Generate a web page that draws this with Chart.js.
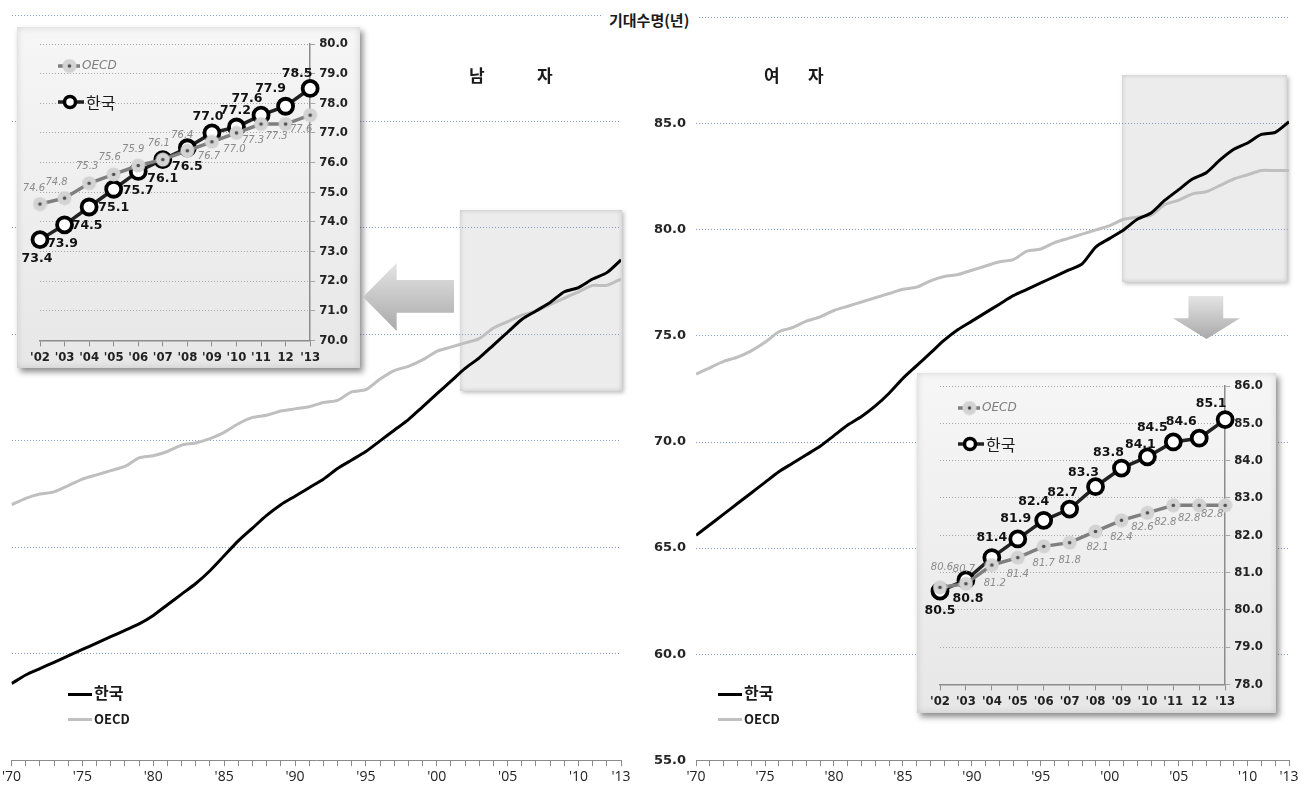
<!DOCTYPE html>
<html>
<head>
<meta charset="utf-8">
<script src="https://cdn.jsdelivr.net/npm/chart.js@4.4.0/dist/chart.umd.min.js"></script>
<style>
  body { margin:0; background:#fff; width:1314px; height:792px; position:relative; overflow:hidden;
         font-family:"Noto Sans CJK KR","Noto Sans",sans-serif; color:#1a1a1a; }
  .abs { position:absolute; }
  canvas { position:absolute; }
  .hbox { background:#ececec; box-shadow: inset 0 0 5px rgba(0,0,0,0.18), 2px 2px 4px rgba(0,0,0,0.25); z-index:0; }
  .panel { background:linear-gradient(#f6f6f6,#e7e7e7); box-shadow: 3px 4px 6px rgba(0,0,0,0.45), inset 0 0 7px rgba(0,0,0,0.15); z-index:3; }
  .arrow { background:linear-gradient(#e4e4e4,#a9a9a9); z-index:3; }
  .title { font-weight:bold; font-size:15px; background:#fff; padding:0 8px; z-index:4; }
  .sex { font-weight:bold; font-size:17px; z-index:4; }
  .leg { z-index:4; font-weight:bold; }
  .leg span.l { position:absolute; width:24px; height:3px; }
</style>
</head>
<body>

<div class="abs hbox" style="left:460px;top:210px;width:162px;height:181px;"></div>
<div class="abs hbox" style="left:1122px;top:75px;width:165px;height:207px;"></div>

<canvas id="maleMain" width="640" height="792" style="left:0;top:0;z-index:1"></canvas>
<canvas id="femaleMain" width="674" height="792" style="left:640px;top:0;z-index:1"></canvas>

<div class="abs panel" style="left:17px;top:27px;width:343px;height:341px;">
  <canvas id="maleZoom" width="343" height="341" style="left:0;top:0"></canvas>
</div>
<div class="abs panel" style="left:917px;top:373px;width:359px;height:340px;">
  <canvas id="femaleZoom" width="359" height="340" style="left:0;top:0"></canvas>
</div>

<div class="abs arrow" style="left:363px;top:263px;width:91px;height:68px;
  clip-path:polygon(0 50%, 37% 0, 37% 25%, 100% 25%, 100% 73%, 37% 73%, 37% 100%);"></div>
<div class="abs arrow" style="left:1173px;top:296px;width:67px;height:43px;
  clip-path:polygon(23% 0, 75% 0, 75% 52%, 100% 52%, 50% 100%, 0 52%, 23% 52%);"></div>

<div class="abs title" style="left:601px;top:9px;">기대수명(년)</div>
<div class="abs sex" style="left:469px;top:62px;">남</div>
<div class="abs sex" style="left:537px;top:62px;">자</div>
<div class="abs sex" style="left:764px;top:62px;">여</div>
<div class="abs sex" style="left:808px;top:62px;">자</div>

<div class="abs leg" style="left:68px;top:680px;width:100px;height:50px;">
  <span class="l" style="left:0;top:13px;background:#000"></span>
  <span class="abs" style="left:26px;top:0;font-size:16px">한국</span>
  <span class="l" style="left:0;top:38px;background:#c0c0c0"></span>
  <span class="abs" style="left:26px;top:29px;font-size:13px">OECD</span>
</div>
<div class="abs leg" style="left:718px;top:680px;width:100px;height:50px;">
  <span class="l" style="left:0;top:13px;background:#000"></span>
  <span class="abs" style="left:26px;top:0;font-size:16px">한국</span>
  <span class="l" style="left:0;top:38px;background:#c0c0c0"></span>
  <span class="abs" style="left:26px;top:29px;font-size:13px">OECD</span>
</div>

<script>
// 연도 (1970~2013)
const years = [1970,1971,1972,1973,1974,1975,1976,1977,1978,1979,
               1980,1981,1982,1983,1984,1985,1986,1987,1988,1989,
               1990,1991,1992,1993,1994,1995,1996,1997,1998,1999,
               2000,2001,2002,2003,2004,2005,2006,2007,2008,2009,
               2010,2011,2012,2013];
const yearLabels = [1970,1975,1980,1985,1990,1995,2000,2005,2010,2013];
const mainYTicks = [55,60,65,70,75,80,85,90];

// 남자 기대수명
const maleKorea = [58.6,59.0,59.3,59.6,59.9,60.2,60.5,60.8,61.1,61.4,
                   61.8,62.3,62.8,63.3,63.9,64.6,65.3,65.9,66.5,67.0,
                   67.4,67.8,68.2,68.7,69.1,69.5,70.0,70.5,71.0,71.6,
                   72.2,72.8,73.4,73.9,74.5,75.1,75.7,76.1,76.5,77.0,
                   77.2,77.6,77.9,78.5];
const maleOecd  = [67.0,67.3,67.5,67.6,67.9,68.2,68.4,68.6,68.8,69.2,
                   69.3,69.5,69.8,69.9,70.1,70.4,70.8,71.1,71.2,71.4,
                   71.5,71.6,71.8,71.9,72.3,72.4,72.9,73.3,73.5,73.8,
                   74.2,74.4,74.6,74.8,75.3,75.6,75.9,76.1,76.4,76.7,
                   77.0,77.3,77.3,77.6];
// 여자 기대수명
const femaleKorea = [65.6,66.1,66.6,67.1,67.6,68.1,68.6,69.0,69.4,69.8,
                     70.3,70.8,71.2,71.7,72.3,73.0,73.6,74.2,74.8,75.3,
                     75.7,76.1,76.5,76.9,77.2,77.5,77.8,78.1,78.4,79.2,
                     79.6,80.0,80.5,80.8,81.4,81.9,82.4,82.7,83.3,83.8,
                     84.1,84.5,84.6,85.1];
const femaleOecd  = [73.2,73.5,73.8,74.0,74.3,74.7,75.2,75.4,75.7,75.9,
                     76.2,76.4,76.6,76.8,77.0,77.2,77.3,77.6,77.8,77.9,
                     78.1,78.3,78.5,78.6,79.0,79.1,79.4,79.6,79.8,80.0,
                     80.2,80.5,80.6,80.7,81.2,81.4,81.7,81.8,82.1,82.4,
                     82.6,82.8,82.8,82.8];

// 확대 그림 ('02~'13)
const zoomYears = ["'02","'03","'04","'05","'06","'07","'08","'09","'10","'11","12","'13"];
const maleKoreaZoom   = [73.4,73.9,74.5,75.1,75.7,76.1,76.5,77.0,77.2,77.6,77.9,78.5];
const maleOecdZoom    = [74.6,74.8,75.3,75.6,75.9,76.1,76.4,76.7,77.0,77.3,77.3,77.6];
const femaleKoreaZoom = [80.5,80.8,81.4,81.9,82.4,82.7,83.3,83.8,84.1,84.5,84.6,85.1];
const femaleOecdZoom  = [80.6,80.7,81.2,81.4,81.7,81.8,82.1,82.4,82.6,82.8,82.8,82.8];

// 라벨 위치 (px)
const maleKoreaOff = [[-3,19],[-2,19],[-2,19],[0,19],[0,19],[0,19],[0,19],[-4,-16],[-1,-16],[-14,-16],[-15,-17],[-13,-15]];
const maleOecdOff  = [[-6,-16],[-8,-16],[-2,-17],[-4,-17],[-5,-16],[-4,-16],[-5,-15],[-3,15],[-2,16],[-8,16],[-9,12],[-9,14]];
const femKoreaOff  = [[0,20],[2,19],[0,-20],[-2,-20],[-10,-19],[-7,-16],[-12,-14],[-13,-15],[-7,-12],[-21,-14],[-18,-16],[-14,-16]];
const femOecdOff   = [[2,-20],[-2,-14],[3,18],[0,17],[0,17],[0,18],[2,16],[0,17],[-5,15],[-8,17],[-10,13],[-13,9]];

const pointLabels = {
  id: 'pointLabels',
  afterDatasetsDraw(chart) {
    const ctx = chart.ctx;
    chart.data.datasets.forEach((ds, i) => {
      if (!ds.labelOff) return;
      const meta = chart.getDatasetMeta(i);
      ctx.save();
      ctx.font = ds.labelFont;
      ctx.fillStyle = ds.labelColor;
      ctx.textAlign = 'center';
      ctx.textBaseline = 'middle';
      meta.data.forEach((pt, j) => {
        const o = ds.labelOff[j];
        ctx.fillText(ds.data[j].toFixed(1), pt.x + o[0], pt.y + o[1]);
      });
      ctx.restore();
    });
  }
};

function oecdMarker() {
  const c = document.createElement('canvas');
  c.width = 15; c.height = 15;
  const g = c.getContext('2d');
  g.fillStyle = '#d3d3d3';
  g.beginPath(); g.arc(7.5, 7.5, 7, 0, Math.PI * 2); g.fill();
  g.fillStyle = '#505050';
  g.beginPath(); g.arc(7.5, 7.5, 1.8, 0, Math.PI * 2); g.fill();
  return c;
}
const oecdPt = oecdMarker();

// 확대그림 범례
const zoomLegend = {
  id: 'zoomLegend',
  afterDraw(chart) {
    const ctx = chart.ctx, a = chart.chartArea;
    const x = a.left + 18, y1 = a.top + 22, y2 = a.top + 58;
    ctx.save();
    ctx.strokeStyle = '#7f7f7f'; ctx.lineWidth = 3.5;
    ctx.beginPath(); ctx.moveTo(x, y1); ctx.lineTo(x + 22, y1); ctx.stroke();
    ctx.drawImage(oecdPt, x + 4, y1 - 7.5);
    ctx.fillStyle = '#7f7f7f'; ctx.font = 'italic 12px "DejaVu Sans"';
    ctx.textBaseline = 'middle';
    ctx.fillText('OECD', x + 24, y1);
    ctx.strokeStyle = '#222'; ctx.lineWidth = 3.5;
    ctx.beginPath(); ctx.moveTo(x, y2); ctx.lineTo(x + 26, y2); ctx.stroke();
    ctx.fillStyle = '#fff'; ctx.lineWidth = 3.5; ctx.strokeStyle = '#000';
    ctx.beginPath(); ctx.arc(x + 12, y2, 5.5, 0, Math.PI * 2); ctx.fill(); ctx.stroke();
    ctx.fillStyle = '#1a1a1a'; ctx.font = '16px "Noto Sans CJK KR"';
    ctx.fillText('한국', x + 28, y2 + 1);
    ctx.restore();
  }
};

function mainChart(id, korea, oecd, showY, pad) {
  return new Chart(document.getElementById(id), {
    type: 'line',
    data: {
      datasets: [
        { label: '한국', data: years.map((y, i) => ({ x: y, y: korea[i] })),
          borderColor: '#000', borderWidth: 3, pointRadius: 0, tension: 0.25 },
        { label: 'OECD', data: years.map((y, i) => ({ x: y, y: oecd[i] })),
          borderColor: '#bfbfbf', borderWidth: 3, pointRadius: 0, tension: 0.25 }
      ]
    },
    options: {
      responsive: false, animation: false,
      layout: { padding: pad },
      plugins: { legend: { display: false }, tooltip: { enabled: false } },
      scales: {
        x: {
          type: 'linear', min: 1970, max: 2013,
          afterBuildTicks: ax => { ax.ticks = years.map(v => ({ value: v })); },
          ticks: { autoSkip: false, maxRotation: 0, color: '#222', padding: 2,
                   font: { family: '"Liberation Sans Narrow","Open Sans"', size: 14 },
                   callback: v => yearLabels.includes(v) ? "'" + String(v).slice(2) : '' },
          grid: { drawOnChartArea: false, drawTicks: true, tickLength: 6, color: '#8c8c8c' },
          border: { display: true, color: '#8c8c8c', width: 1 }
        },
        y: {
          min: 55, max: 90,
          afterBuildTicks: ax => { ax.ticks = mainYTicks.map(v => ({ value: v })); },
          ticks: { display: showY, color: '#262626', padding: 10,
                   font: { family: '"DejaVu Sans"', size: 13, weight: 'bold' },
                   callback: v => v === 90 ? '' : v.toFixed(1) },
          grid: { drawTicks: false, lineWidth: 1,
                  color: c => c.tick && c.tick.value === 55 ? 'rgba(0,0,0,0)' : '#7f9fc9' },
          border: { display: false, dash: [1, 2] }
        }
      }
    }
  });
}

function zoomChart(id, korea, oecd, kOff, oOff, yMin, yMax, pad) {
  return new Chart(document.getElementById(id), {
    type: 'line',
    data: {
      labels: zoomYears,
      datasets: [
        { label: '한국', data: korea, borderColor: '#222', borderWidth: 3.5,
          pointRadius: 7.5, pointBorderWidth: 3.8, pointBackgroundColor: '#fff', pointBorderColor: '#000',
          labelOff: kOff, labelFont: 'bold 12.5px "DejaVu Sans"', labelColor: '#111' },
        { label: 'OECD', data: oecd, borderColor: '#7f7f7f', borderWidth: 3.5,
          pointStyle: oecdPt, pointRadius: 7,
          labelOff: oOff, labelFont: 'italic 10px "DejaVu Sans"', labelColor: '#8a8a8a' }
      ].reverse()
    },
    options: {
      responsive: false, animation: false,
      layout: { padding: pad },
      plugins: { legend: { display: false }, tooltip: { enabled: false } },
      scales: {
        x: {
          offset: false,
          ticks: { autoSkip: false, maxRotation: 0, color: '#222', padding: 3,
                   font: { family: '"DejaVu Sans Condensed","DejaVu Sans"', size: 13, weight: 'bold' } },
          grid: { drawOnChartArea: false, tickLength: 6, color: '#8c8c8c' },
          border: { color: '#8c8c8c', width: 1.5 }
        },
        y: {
          position: 'right', min: yMin, max: yMax,
          ticks: { stepSize: 1, color: '#222', padding: 4,
                   font: { family: '"DejaVu Sans Condensed","DejaVu Sans"', size: 13, weight: 'bold' },
                   callback: v => v.toFixed(1) },
          grid: { tickLength: 5, color: '#a6a6a6', lineWidth: 1 },
          border: { color: '#8c8c8c', width: 1.5, dash: [1, 2] }
        }
      }
    },
    plugins: [pointLabels, zoomLegend]
  });
}

mainChart('maleMain', maleKorea, maleOecd, false, { left: 6, right: 19, top: 15, bottom: 5 });
mainChart('femaleMain', femaleKorea, femaleOecd, true, { left: 4, right: 25, top: 15, bottom: 5 });
zoomChart('maleZoom', maleKoreaZoom, maleOecdZoom, maleKoreaOff, maleOecdOff, 70, 80,
          { left: 23, right: 8, top: 17, bottom: 0 });
zoomChart('femaleZoom', femaleKoreaZoom, femaleOecdZoom, femKoreaOff, femOecdOff, 78, 86,
          { left: 23, right: 9, top: 13, bottom: 1 });
</script>
</body>
</html>
